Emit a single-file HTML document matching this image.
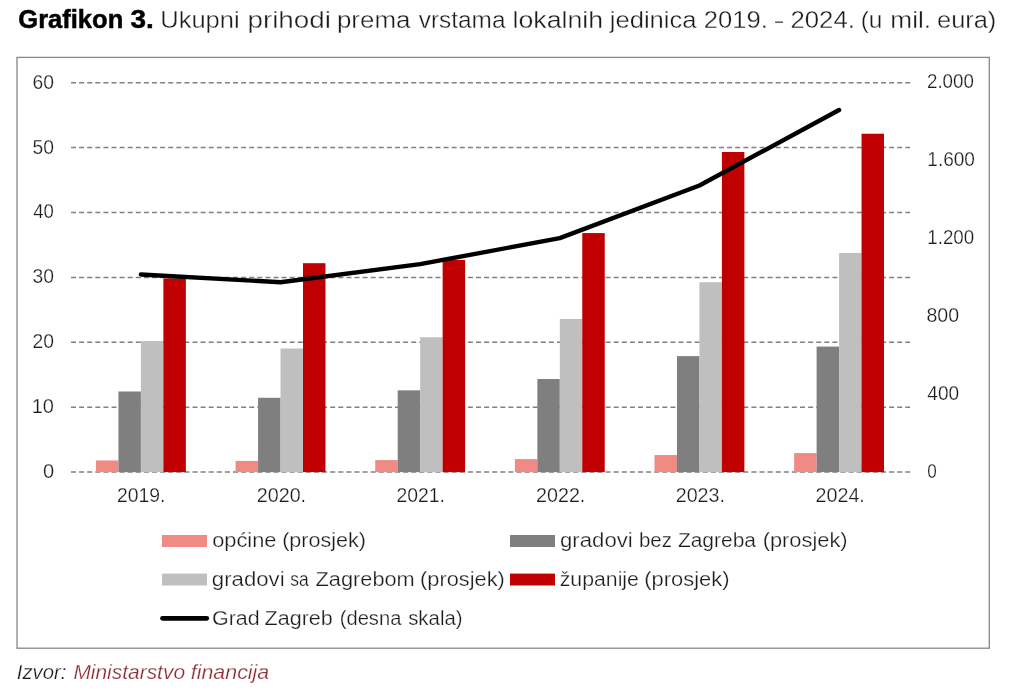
<!DOCTYPE html>
<html><head><meta charset="utf-8"><style>
html,body{margin:0;padding:0;background:#fff;width:1024px;height:697px;overflow:hidden}
svg{display:block;font-family:"Liberation Sans", sans-serif;will-change:transform}
</style></head><body>
<svg width="1024" height="697" viewBox="0 0 1024 697">
<rect x="17" y="57.4" width="972.3" height="590.8" fill="none" stroke="#878787" stroke-width="1.3"/>
<line x1="71" y1="472.10" x2="910.1" y2="472.10" stroke="#808080" stroke-width="1.5" stroke-dasharray="5 3.1"/>
<line x1="71" y1="407.20" x2="910.1" y2="407.20" stroke="#808080" stroke-width="1.5" stroke-dasharray="5 3.1"/>
<line x1="71" y1="342.30" x2="910.1" y2="342.30" stroke="#808080" stroke-width="1.5" stroke-dasharray="5 3.1"/>
<line x1="71" y1="277.40" x2="910.1" y2="277.40" stroke="#808080" stroke-width="1.5" stroke-dasharray="5 3.1"/>
<line x1="71" y1="212.50" x2="910.1" y2="212.50" stroke="#808080" stroke-width="1.5" stroke-dasharray="5 3.1"/>
<line x1="71" y1="147.60" x2="910.1" y2="147.60" stroke="#808080" stroke-width="1.5" stroke-dasharray="5 3.1"/>
<line x1="71" y1="82.70" x2="910.1" y2="82.70" stroke="#808080" stroke-width="1.5" stroke-dasharray="5 3.1"/>
<rect x="95.97" y="460.42" width="22.47" height="11.68" fill="#ef8a85"/>
<rect x="118.44" y="391.49" width="22.47" height="80.61" fill="#7f7f7f"/>
<rect x="140.91" y="341.07" width="22.47" height="131.03" fill="#bfbfbf"/>
<rect x="163.38" y="278.37" width="22.47" height="193.73" fill="#c00000"/>
<rect x="235.60" y="460.94" width="22.47" height="11.16" fill="#ef8a85"/>
<rect x="258.07" y="397.79" width="22.47" height="74.31" fill="#7f7f7f"/>
<rect x="280.54" y="348.53" width="22.47" height="123.57" fill="#bfbfbf"/>
<rect x="303.01" y="263.19" width="22.47" height="208.91" fill="#c00000"/>
<rect x="375.23" y="460.09" width="22.47" height="12.01" fill="#ef8a85"/>
<rect x="397.70" y="390.33" width="22.47" height="81.77" fill="#7f7f7f"/>
<rect x="420.17" y="337.24" width="22.47" height="134.86" fill="#bfbfbf"/>
<rect x="442.64" y="259.88" width="22.47" height="212.22" fill="#c00000"/>
<rect x="514.87" y="459.12" width="22.47" height="12.98" fill="#ef8a85"/>
<rect x="537.34" y="379.03" width="22.47" height="93.07" fill="#7f7f7f"/>
<rect x="559.81" y="318.94" width="22.47" height="153.16" fill="#bfbfbf"/>
<rect x="582.27" y="233.07" width="22.47" height="239.03" fill="#c00000"/>
<rect x="654.50" y="455.03" width="22.47" height="17.07" fill="#ef8a85"/>
<rect x="676.97" y="356.12" width="22.47" height="115.98" fill="#7f7f7f"/>
<rect x="699.44" y="282.20" width="22.47" height="189.90" fill="#bfbfbf"/>
<rect x="721.91" y="152.01" width="22.47" height="320.09" fill="#c00000"/>
<rect x="794.12" y="453.08" width="22.47" height="19.02" fill="#ef8a85"/>
<rect x="816.60" y="346.58" width="22.47" height="125.52" fill="#7f7f7f"/>
<rect x="839.07" y="252.93" width="22.47" height="219.17" fill="#bfbfbf"/>
<rect x="861.53" y="133.71" width="22.47" height="338.39" fill="#c00000"/>
<polyline points="140.91,274.48 280.54,282.27 420.17,264.16 559.80,238.07 699.44,185.50 839.06,109.96" fill="none" stroke="#000" stroke-width="4.4" stroke-linecap="round" stroke-linejoin="round"/>
<rect x="162" y="535" width="45" height="12" fill="#ef8a85"/>
<rect x="510" y="535" width="45" height="12" fill="#7f7f7f"/>
<rect x="162" y="573.6" width="45" height="11.9" fill="#bfbfbf"/>
<rect x="510" y="573.6" width="45" height="11.9" fill="#c00000"/>
<line x1="162.5" y1="618.3" x2="206.8" y2="618.3" stroke="#000" stroke-width="4.7" stroke-linecap="round"/>
<text id="tb0" x="18.28" y="28.00" textLength="105.01" lengthAdjust="spacingAndGlyphs" font-size="25.5" font-weight="bold" fill="#000" stroke="#000" stroke-width="0.5">Grafikon</text>
<text id="tb1" x="130.54" y="28.00" textLength="23.30" lengthAdjust="spacingAndGlyphs" font-size="25.5" font-weight="bold" fill="#000" stroke="#000" stroke-width="0.5">3.</text>
<text id="t0" x="160.22" y="27.80" textLength="79.44" lengthAdjust="spacingAndGlyphs" font-size="24.5" fill="#1c1c1c" stroke="#fff" stroke-width="0.35">Ukupni</text>
<text id="t1" x="247.40" y="27.80" textLength="83.65" lengthAdjust="spacingAndGlyphs" font-size="24.5" fill="#1c1c1c" stroke="#fff" stroke-width="0.35">prihodi</text>
<text id="t2" x="336.94" y="27.80" textLength="73.47" lengthAdjust="spacingAndGlyphs" font-size="24.5" fill="#1c1c1c" stroke="#fff" stroke-width="0.35">prema</text>
<text id="t3" x="418.82" y="27.80" textLength="86.64" lengthAdjust="spacingAndGlyphs" font-size="24.5" fill="#1c1c1c" stroke="#fff" stroke-width="0.35">vrstama</text>
<text id="t4" x="512.58" y="27.80" textLength="90.59" lengthAdjust="spacingAndGlyphs" font-size="24.5" fill="#1c1c1c" stroke="#fff" stroke-width="0.35">lokalnih</text>
<text id="t5" x="609.72" y="27.80" textLength="86.91" lengthAdjust="spacingAndGlyphs" font-size="24.5" fill="#1c1c1c" stroke="#fff" stroke-width="0.35">jedinica</text>
<text id="t6" x="703.76" y="27.80" textLength="64.06" lengthAdjust="spacingAndGlyphs" font-size="24.5" fill="#1c1c1c" stroke="#fff" stroke-width="0.35">2019.</text>
<text id="t7" x="775.00" y="27.80" textLength="8.08" lengthAdjust="spacingAndGlyphs" font-size="24.5" fill="#1c1c1c" stroke="#fff" stroke-width="0.35">–</text>
<text id="t8" x="790.48" y="27.80" textLength="64.38" lengthAdjust="spacingAndGlyphs" font-size="24.5" fill="#1c1c1c" stroke="#fff" stroke-width="0.35">2024.</text>
<text id="t9" x="860.76" y="27.80" textLength="21.66" lengthAdjust="spacingAndGlyphs" font-size="24.5" fill="#1c1c1c" stroke="#fff" stroke-width="0.35">(u</text>
<text id="t10" x="890.30" y="27.80" textLength="40.77" lengthAdjust="spacingAndGlyphs" font-size="24.5" fill="#1c1c1c" stroke="#fff" stroke-width="0.35">mil.</text>
<text id="t11" x="937.02" y="27.80" textLength="59.31" lengthAdjust="spacingAndGlyphs" font-size="24.5" fill="#1c1c1c" stroke="#fff" stroke-width="0.35">eura)</text>
<text id="l0" x="212.20" y="546.90" textLength="64.27" lengthAdjust="spacingAndGlyphs" font-size="20" fill="#1c1c1c" stroke="#fff" stroke-width="0.25">općine</text>
<text id="l1" x="282.20" y="546.90" textLength="83.86" lengthAdjust="spacingAndGlyphs" font-size="20" fill="#1c1c1c" stroke="#fff" stroke-width="0.25">(prosjek)</text>
<text id="l2" x="560.02" y="546.90" textLength="72.77" lengthAdjust="spacingAndGlyphs" font-size="20" fill="#1c1c1c" stroke="#fff" stroke-width="0.25">gradovi</text>
<text id="l3" x="638.92" y="546.90" textLength="33.05" lengthAdjust="spacingAndGlyphs" font-size="20" fill="#1c1c1c" stroke="#fff" stroke-width="0.25">bez</text>
<text id="l4" x="677.92" y="546.90" textLength="78.08" lengthAdjust="spacingAndGlyphs" font-size="20" fill="#1c1c1c" stroke="#fff" stroke-width="0.25">Zagreba</text>
<text id="l5" x="762.66" y="546.90" textLength="84.98" lengthAdjust="spacingAndGlyphs" font-size="20" fill="#1c1c1c" stroke="#fff" stroke-width="0.25">(prosjek)</text>
<text id="l6" x="211.84" y="585.70" textLength="72.85" lengthAdjust="spacingAndGlyphs" font-size="20" fill="#1c1c1c" stroke="#fff" stroke-width="0.25">gradovi</text>
<text id="l7" x="290.28" y="585.70" textLength="18.45" lengthAdjust="spacingAndGlyphs" font-size="20" fill="#1c1c1c" stroke="#fff" stroke-width="0.25">sa</text>
<text id="l8" x="315.56" y="585.70" textLength="99.20" lengthAdjust="spacingAndGlyphs" font-size="20" fill="#1c1c1c" stroke="#fff" stroke-width="0.25">Zagrebom</text>
<text id="l9" x="420.12" y="585.70" textLength="84.66" lengthAdjust="spacingAndGlyphs" font-size="20" fill="#1c1c1c" stroke="#fff" stroke-width="0.25">(prosjek)</text>
<text id="l10" x="559.74" y="585.70" textLength="79.20" lengthAdjust="spacingAndGlyphs" font-size="20" fill="#1c1c1c" stroke="#fff" stroke-width="0.25">županije</text>
<text id="l11" x="644.30" y="585.70" textLength="85.14" lengthAdjust="spacingAndGlyphs" font-size="20" fill="#1c1c1c" stroke="#fff" stroke-width="0.25">(prosjek)</text>
<text id="l12" x="212.02" y="624.60" textLength="47.68" lengthAdjust="spacingAndGlyphs" font-size="20" fill="#1c1c1c" stroke="#fff" stroke-width="0.25">Grad</text>
<text id="l13" x="264.56" y="624.60" textLength="68.20" lengthAdjust="spacingAndGlyphs" font-size="20" fill="#1c1c1c" stroke="#fff" stroke-width="0.25">Zagreb</text>
<text id="l14" x="339.74" y="624.60" textLength="61.63" lengthAdjust="spacingAndGlyphs" font-size="20" fill="#1c1c1c" stroke="#fff" stroke-width="0.25">(desna</text>
<text id="l15" x="408.20" y="624.60" textLength="54.35" lengthAdjust="spacingAndGlyphs" font-size="20" fill="#1c1c1c" stroke="#fff" stroke-width="0.25">skala)</text>
<text id="s0" x="16.84" y="678.50" textLength="49.55" lengthAdjust="spacingAndGlyphs" font-size="21" font-style="italic" fill="#1c1c1c" stroke="#fff" stroke-width="0.25">Izvor:</text>
<text id="s1" x="73.38" y="678.50" textLength="111.66" lengthAdjust="spacingAndGlyphs" font-size="21" font-style="italic" fill="#902a30" stroke="#fff" stroke-width="0.25">Ministarstvo</text>
<text id="s2" x="190.74" y="678.50" textLength="78.51" lengthAdjust="spacingAndGlyphs" font-size="21" font-style="italic" fill="#902a30" stroke="#fff" stroke-width="0.25">financija</text>
<text id="yl0" x="43.10" y="478.00" textLength="11.12" lengthAdjust="spacingAndGlyphs" font-size="20" fill="#1c1c1c" stroke="#fff" stroke-width="0.25">0</text>
<text id="yl1" x="31.70" y="413.10" textLength="22.25" lengthAdjust="spacingAndGlyphs" font-size="20" fill="#1c1c1c" stroke="#fff" stroke-width="0.25">10</text>
<text id="yl2" x="32.50" y="348.20" textLength="21.45" lengthAdjust="spacingAndGlyphs" font-size="20" fill="#1c1c1c" stroke="#fff" stroke-width="0.25">20</text>
<text id="yl3" x="32.50" y="283.30" textLength="21.45" lengthAdjust="spacingAndGlyphs" font-size="20" fill="#1c1c1c" stroke="#fff" stroke-width="0.25">30</text>
<text id="yl4" x="33.30" y="218.40" textLength="20.65" lengthAdjust="spacingAndGlyphs" font-size="20" fill="#1c1c1c" stroke="#fff" stroke-width="0.25">40</text>
<text id="yl5" x="32.50" y="153.50" textLength="21.45" lengthAdjust="spacingAndGlyphs" font-size="20" fill="#1c1c1c" stroke="#fff" stroke-width="0.25">50</text>
<text id="yl6" x="32.50" y="88.60" textLength="21.45" lengthAdjust="spacingAndGlyphs" font-size="20" fill="#1c1c1c" stroke="#fff" stroke-width="0.25">60</text>
<text id="yr0" x="927.30" y="477.80" textLength="9.52" lengthAdjust="spacingAndGlyphs" font-size="20" fill="#1c1c1c" stroke="#fff" stroke-width="0.25">0</text>
<text id="yr1" x="927.30" y="399.92" textLength="31.78" lengthAdjust="spacingAndGlyphs" font-size="20" fill="#1c1c1c" stroke="#fff" stroke-width="0.25">400</text>
<text id="yr2" x="926.50" y="322.04" textLength="32.58" lengthAdjust="spacingAndGlyphs" font-size="20" fill="#1c1c1c" stroke="#fff" stroke-width="0.25">800</text>
<text id="yr3" x="927.30" y="244.16" textLength="46.86" lengthAdjust="spacingAndGlyphs" font-size="20" fill="#1c1c1c" stroke="#fff" stroke-width="0.25">1.200</text>
<text id="yr4" x="927.30" y="166.28" textLength="47.66" lengthAdjust="spacingAndGlyphs" font-size="20" fill="#1c1c1c" stroke="#fff" stroke-width="0.25">1.600</text>
<text id="yr5" x="927.00" y="88.40" textLength="46.86" lengthAdjust="spacingAndGlyphs" font-size="20" fill="#1c1c1c" stroke="#fff" stroke-width="0.25">2.000</text>
<text id="xl0" x="117.00" y="501.70" textLength="48.46" lengthAdjust="spacingAndGlyphs" font-size="20" fill="#1c1c1c" stroke="#fff" stroke-width="0.25">2019.</text>
<text id="xl1" x="256.80" y="501.70" textLength="49.26" lengthAdjust="spacingAndGlyphs" font-size="20" fill="#1c1c1c" stroke="#fff" stroke-width="0.25">2020.</text>
<text id="xl2" x="396.40" y="501.70" textLength="48.46" lengthAdjust="spacingAndGlyphs" font-size="20" fill="#1c1c1c" stroke="#fff" stroke-width="0.25">2021.</text>
<text id="xl3" x="536.10" y="501.70" textLength="49.26" lengthAdjust="spacingAndGlyphs" font-size="20" fill="#1c1c1c" stroke="#fff" stroke-width="0.25">2022.</text>
<text id="xl4" x="675.70" y="501.70" textLength="49.26" lengthAdjust="spacingAndGlyphs" font-size="20" fill="#1c1c1c" stroke="#fff" stroke-width="0.25">2023.</text>
<text id="xl5" x="815.60" y="501.70" textLength="49.26" lengthAdjust="spacingAndGlyphs" font-size="20" fill="#1c1c1c" stroke="#fff" stroke-width="0.25">2024.</text>
</svg>
</body></html>
